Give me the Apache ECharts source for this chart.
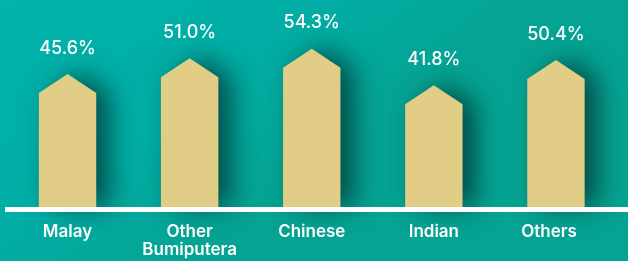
<!DOCTYPE html>
<html><head><meta charset="utf-8">
<script src="https://cdn.jsdelivr.net/npm/echarts@6/dist/echarts.min.js"></script>
<style>html,body{margin:0;padding:0;}#c{width:628px;height:261px;}</style>
</head><body><div id="c"></div>
<script>
const categories = ['Malay', 'Other\nBumiputera', 'Chinese', 'Indian', 'Others'];
const values = [45.6, 51.0, 54.3, 41.8, 50.4];
const valueLabels = ['45.6%', '51.0%', '54.3%', '41.8%', '50.4%'];

const chart = echarts.init(document.getElementById('c'), null, {renderer: 'canvas'});
const FONT = 'Inter, "Open Sans", sans-serif';
chart.setOption({
  backgroundColor: {
    type: 'linear', x: 0, y: 0, x2: 0.3, y2: 1,
    colorStops: [{offset: 0, color: '#00B3AC'}, {offset: 0.6, color: '#01ADA4'}, {offset: 1, color: '#05A393'}]
  },
  animation: false,
  grid: [
    {left: 6.5, right: 11, top: 3, bottom: 54},
    {left: 5, right: 0, top: 3, bottom: 51.5}
  ],
  xAxis: [
    {type: 'category', gridIndex: 0,
     data: categories.map((c, i) => i === 4 ? {value: c, textStyle: {padding: [0, 14, 0, 0]}} : c),
     axisLine: {show: false}, axisTick: {show: false},
     axisLabel: {color: '#ffffff', fontFamily: FONT, fontWeight: 600, fontSize: 17, lineHeight: 18, margin: 16, interval: 0}},
    {type: 'category', gridIndex: 1, data: categories, z: 10,
     axisLine: {show: true, lineStyle: {color: '#ffffff', width: 5, cap: 'butt'}},
     axisTick: {show: false}, axisLabel: {show: false}}
  ],
  yAxis: [
    {type: 'value', gridIndex: 0, min: 0, max: 70, show: false},
    {type: 'value', gridIndex: 1, min: 0, max: 70, show: false}
  ],
  series: [{
    type: 'custom',
    xAxisIndex: 0, yAxisIndex: 0,
    data: values.map((v, i) => [i, v]),
    renderItem: function (params, api) {
      const i = api.value(0), v = api.value(1);
      const base = api.coord([i, 0]);
      const top = api.coord([i, v]);
      const w = api.size([1, 0])[0] * 0.47;
      const peak = 19;
      const x = top[0];
      return {
        type: 'group',
        children: [
          {type: 'polygon',
           shape: {points: [[x - w / 2, base[1]], [x - w / 2, top[1] + peak], [x, top[1]], [x + w / 2, top[1] + peak], [x + w / 2, base[1]]]},
           style: {fill: '#E1CD86', shadowColor: 'rgba(0,40,40,0.7)', shadowBlur: 26, shadowOffsetX: 13, shadowOffsetY: 0}},
          {type: 'text',
           style: {text: valueLabels[params.dataIndex], x: x, y: top[1] - 17, align: 'center', verticalAlign: 'bottom',
                   fill: '#ffffff', font: '500 18px ' + FONT}}
        ]
      };
    }
  }]
});
</script></body></html>
